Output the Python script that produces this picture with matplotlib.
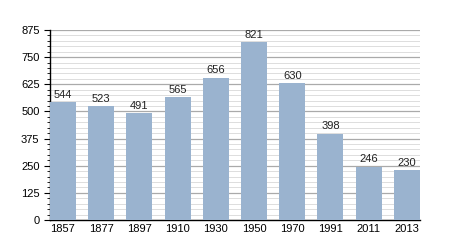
import numpy as np
import matplotlib.pyplot as plt
from matplotlib.ticker import MultipleLocator

plt.rcParams['font.family'] = ['Liberation Sans', 'DejaVu Sans']

annees = ['1857', '1877', '1897', '1910', '1930', '1950', '1970', '1991', '2011', '2013']
population = [544, 523, 491, 565, 656, 821, 630, 398, 246, 230]

fig = plt.figure(figsize=(4.5, 2.5), dpi=100)
ax = fig.add_axes([0.111, 0.12, 0.822, 0.76])

x = np.arange(len(annees))
ax.bar(x, population, width=0.68, color='#9ab3cf', zorder=3)

for xi, v in zip(x, population):
    ax.text(xi, v + 10, str(v), ha='center', va='bottom', fontsize=8, color='#222222')

ax.set_xlim(-0.34, len(annees) - 0.66)
ax.set_ylim(0, 875)
ax.yaxis.set_major_locator(MultipleLocator(125))
ax.yaxis.set_minor_locator(MultipleLocator(25))
ax.grid(which='major', axis='y', color='#aaaaaa', linewidth=0.9, zorder=1)
ax.grid(which='minor', axis='y', color='#dddddd', linewidth=0.7, zorder=0)

ax.set_xticks(x)
ax.set_xticklabels(annees)
ax.tick_params(axis='x', length=0, labelsize=8, pad=3)
ax.tick_params(axis='y', which='major', length=4, labelsize=8, direction='out')
ax.tick_params(axis='y', which='minor', length=2, direction='out')

for s in ['top', 'right']:
    ax.spines[s].set_visible(False)
ax.spines['left'].set_linewidth(1)
ax.spines['bottom'].set_linewidth(1)

fig.savefig('out.png', dpi=100)
